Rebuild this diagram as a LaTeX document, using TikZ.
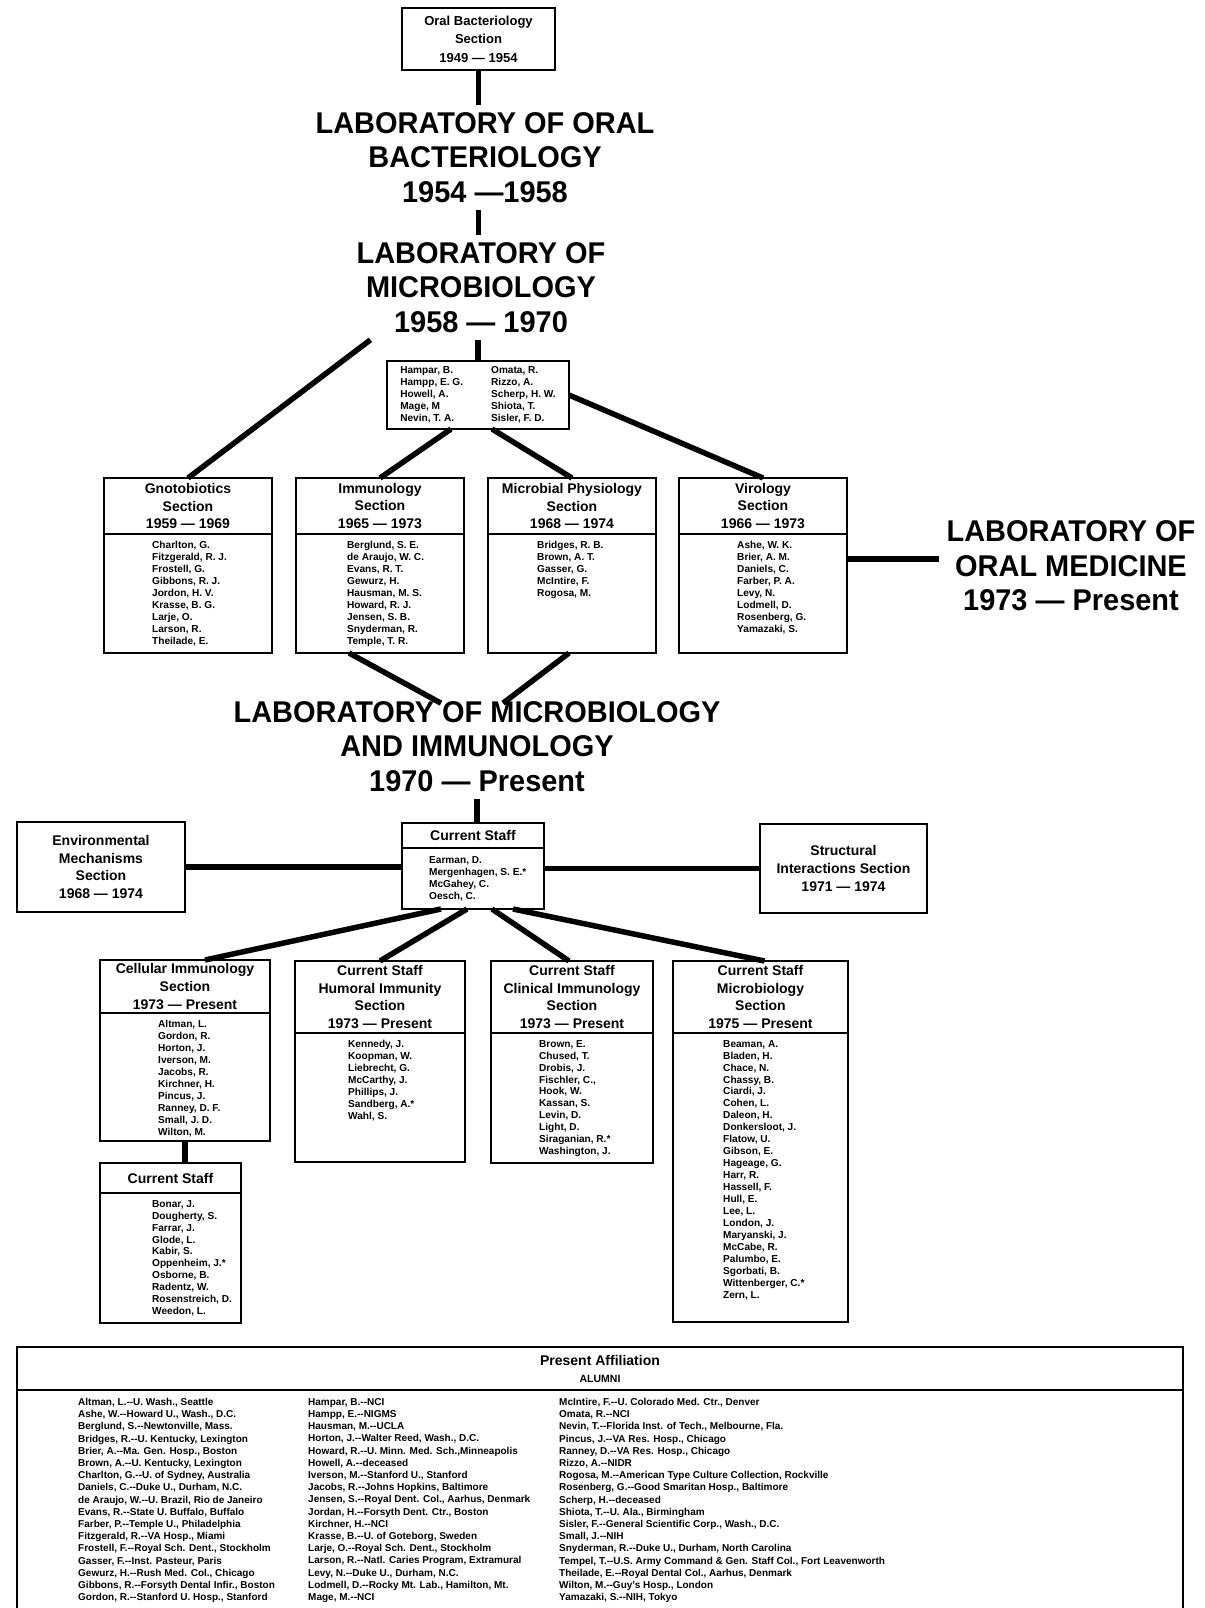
\documentclass[tikz,border=0pt]{standalone}
\usepackage{fontspec}
\setmainfont{Liberation Sans}
\newfontfamily\headfont[FakeStretch=0.965]{Liberation Sans}
\usetikzlibrary{positioning,calc}
\newcommand{\dd}{-{}-}

\begin{document}
\begin{tikzpicture}[x=1pt,y=-1pt,
  big/.style={align=center,inner sep=7pt,font=\headfont\bfseries\fontsize{30}{34.5}\selectfont},
  hdr/.style={draw,line width=2.2pt,outer sep=0pt,inner sep=0pt,align=center,font=\bfseries\fontsize{14}{17.7}\selectfont},
  lst/.style={draw,line width=2.2pt,outer sep=0pt,inner sep=0pt},
  names/.style={align=left,inner sep=0pt,font=\bfseries\fontsize{10.1}{11.95}\selectfont},
  alum/.style={align=left,inner sep=0pt,font=\bfseries\fontsize{10}{12.2}\selectfont},
  conn/.style={line width=5.5pt}]

  \useasboundingbox (0,0) rectangle (1204,1608);

  % Upper tree
  \node[hdr,minimum width=153pt,minimum height=62pt,font=\bfseries\fontsize{13}{18.4}\selectfont] (topbox) at (478.5,39) {Oral Bacteriology\\Section\\1949 — 1954};
  \node[big] (oralbact) at (485,157.5) {LABORATORY OF ORAL\\BACTERIOLOGY\\1954 —1958};
  \node[big] (micro) at (481,287.5) {LABORATORY OF\\MICROBIOLOGY\\1958 — 1970};

  \node[lst,minimum width=182pt,minimum height=68pt] (staffA) at (478,395) {};
  \node[inner sep=0pt,font=\bfseries\fontsize{10.1}{12.2}\selectfont] (staffAN) at (staffA) {%
    \begin{tabular}{@{}l@{\hspace{28pt}}l@{}}
      Hampar, B.   & Omata, R.\\
      Hampp, E. G. & Rizzo, A.\\
      Howell, A.   & Scherp, H. W.\\
      Mage, M      & Shiota, T.\\
      Nevin, T. A. & Sisler, F. D.
    \end{tabular}};

  % Sections 1959 -- 1974
  \node[hdr,minimum width=168pt,minimum height=56pt] (gnoto) at (188,506) {Gnotobiotics\\Section\\1959 — 1969};
  \node[lst,minimum width=168pt,minimum height=119pt,below=0pt of gnoto] (gnotoL) {};
  \node[names,below right=7pt and 48pt of gnotoL.north west] (gnotoN) {Charlton, G.\\Fitzgerald, R. J.\\Frostell, G.\\Gibbons, R. J.\\Jordon, H. V.\\Krasse, B. G.\\Larje, O.\\Larson, R.\\Theilade, E.};

  \node[hdr,minimum width=168pt,minimum height=56pt] (immun) at (380,506) {Immunology\\Section\\1965 — 1973};
  \node[lst,minimum width=168pt,minimum height=119pt,below=0pt of immun] (immunL) {};
  \node[names,below right=7pt and 51pt of immunL.north west] (immunN) {Berglund, S. E.\\de Araujo, W. C.\\Evans, R. T.\\Gewurz, H.\\Hausman, M. S.\\Howard, R. J.\\Jensen, S. B.\\Snyderman, R.\\Temple, T. R.};

  \node[hdr,minimum width=168pt,minimum height=56pt] (micphys) at (572,506) {Microbial Physiology\\Section\\1968 — 1974};
  \node[lst,minimum width=168pt,minimum height=119pt,below=0pt of micphys] (micphysL) {};
  \node[names,below right=7pt and 49pt of micphysL.north west] (micphysN) {Bridges, R. B.\\Brown, A. T.\\Gasser, G.\\McIntire, F.\\Rogosa, M.};

  \node[hdr,minimum width=168pt,minimum height=56pt] (viro) at (763,506) {Virology\\Section\\1966 — 1973};
  \node[lst,minimum width=168pt,minimum height=119pt,below=0pt of viro] (viroL) {};
  \node[names,below right=7pt and 58pt of viroL.north west] (viroN) {Ashe, W. K.\\Brier, A. M.\\Daniels, C.\\Farber, P. A.\\Levy, N.\\Lodmell, D.\\Rosenberg, G.\\Yamazaki, S.};

  \node[big] (oralmed) at (1071,566) {LABORATORY OF\\ORAL MEDICINE\\1973 — Present};
  \node[big] (microimm) at (477,746.5) {LABORATORY OF MICROBIOLOGY\\AND IMMUNOLOGY\\1970 — Present};

  % Lower tree
  \node[hdr,minimum width=142pt,minimum height=25pt] (curstaff) at (473,835.5) {Current Staff};
  \node[lst,minimum width=142pt,minimum height=61pt,below=0pt of curstaff] (curstaffL) {};
  \node[names,below right=8.5pt and 27pt of curstaffL.north west] (curstaffN) {Earman, D.\\Mergenhagen, S. E.*\\McGahey, C.\\Oesch, C.};

  \node[hdr,minimum width=168pt,minimum height=90pt] (envm) at (101,867) {Environmental\\Mechanisms\\Section\\1968 — 1974};
  \node[hdr,minimum width=167pt,minimum height=89pt] (struct) at (843.5,868.5) {Structural\\Interactions Section\\1971 — 1974};

  \node[hdr,minimum width=170pt,minimum height=53pt] (cell) at (185,986.5) {Cellular Immunology\\Section\\1973 — Present};
  \node[lst,minimum width=170pt,minimum height=128pt,below=0pt of cell] (cellL) {};
  \node[names,below right=7pt and 58pt of cellL.north west] (cellN) {Altman, L.\\Gordon, R.\\Horton, J.\\Iverson, M.\\Jacobs, R.\\Kirchner, H.\\Pincus, J.\\Ranney, D. F.\\Small, J. D.\\Wilton, M.};

  \node[hdr,minimum width=141pt,minimum height=30pt] (cs2) at (170.5,1178) {Current Staff};
  \node[lst,minimum width=141pt,minimum height=130pt,below=0pt of cs2] (cs2L) {};
  \node[names,below right=7pt and 52pt of cs2L.north west] (cs2N) {Bonar, J.\\Dougherty, S.\\Farrar, J.\\Glode, L.\\Kabir, S.\\Oppenheim, J.*\\Osborne, B.\\Radentz, W.\\Rosenstreich, D.\\Weedon, L.};

  \node[hdr,minimum width=170pt,minimum height=72pt] (humor) at (380,997) {Current Staff\\Humoral Immunity\\Section\\1973 — Present};
  \node[lst,minimum width=170pt,minimum height=129pt,below=0pt of humor] (humorL) {};
  \node[names,below right=7pt and 53pt of humorL.north west] (humorN) {Kennedy, J.\\Koopman, W.\\Liebrecht, G.\\McCarthy, J.\\Phillips, J.\\Sandberg, A.*\\Wahl, S.};

  \node[hdr,minimum width=162pt,minimum height=72pt] (clin) at (572,997) {Current Staff\\Clinical Immunology\\Section\\1973 — Present};
  \node[lst,minimum width=162pt,minimum height=130pt,below=0pt of clin] (clinL) {};
  \node[names,below right=7pt and 48pt of clinL.north west] (clinN) {Brown, E.\\Chused, T.\\Drobis, J.\\Fischler, C.,\\Hook, W.\\Kassan, S.\\Levin, D.\\Light, D.\\Siraganian, R.*\\Washington, J.};

  \node[hdr,minimum width=175pt,minimum height=72pt] (micb) at (760.5,997) {Current Staff\\Microbiology\\Section\\1975 — Present};
  \node[lst,minimum width=175pt,minimum height=289pt,below=0pt of micb] (micbL) {};
  \node[names,below right=7pt and 50pt of micbL.north west] (micbN) {Beaman, A.\\Bladen, H.\\Chace, N.\\Chassy, B.\\Ciardi, J.\\Cohen, L.\\Daleon, H.\\Donkersloot, J.\\Flatow, U.\\Gibson, E.\\Hageage, G.\\Harr, R.\\Hassell, F.\\Hull, E.\\Lee, L.\\London, J.\\Maryanski, J.\\McCabe, R.\\Palumbo, E.\\Sgorbati, B.\\Wittenberger, C.*\\Zern, L.};

  % Alumni
  \node[hdr,minimum width=1166pt,minimum height=43pt,font=\bfseries\fontsize{14}{17}\selectfont] (alumni) at (600,1368.5) {Present Affiliation\\{\fontsize{10.5}{12}\selectfont ALUMNI}};
  \draw[line width=2.2pt] (alumni.south west) -- ($(alumni.south west)+(0,230)$);
  \draw[line width=2.2pt] (alumni.south east) -- ($(alumni.south east)+(0,230)$);

  \node[alum,below right=8pt and 61pt of alumni.south west] (alumA) {%
    Altman, L.\dd U. Wash., Seattle\\
    Ashe, W.\dd Howard U., Wash., D.C.\\
    Berglund, S.\dd Newtonville, Mass.\\
    Bridges, R.\dd U. Kentucky, Lexington\\
    Brier, A.\dd Ma. Gen. Hosp., Boston\\
    Brown, A.\dd U. Kentucky, Lexington\\
    Charlton, G.\dd U. of Sydney, Australia\\
    Daniels, C.\dd Duke U., Durham, N.C.\\
    de Araujo, W.\dd U. Brazil, Rio de Janeiro\\
    Evans, R.\dd State U. Buffalo, Buffalo\\
    Farber, P.\dd Temple U., Philadelphia\\
    Fitzgerald, R.\dd VA Hosp., Miami\\
    Frostell, F.\dd Royal Sch. Dent., Stockholm\\
    Gasser, F.\dd Inst. Pasteur, Paris\\
    Gewurz, H.\dd Rush Med. Col., Chicago\\
    Gibbons, R.\dd Forsyth Dental Infir., Boston\\
    Gordon, R.\dd Stanford U. Hosp., Stanford};
  \node[alum,below right=8pt and 291pt of alumni.south west] (alumB) {%
    Hampar, B.\dd NCI\\
    Hampp, E.\dd NIGMS\\
    Hausman, M.\dd UCLA\\
    Horton, J.\dd Walter Reed, Wash., D.C.\\
    Howard, R.\dd U. Minn. Med. Sch.,Minneapolis\\
    Howell, A.\dd deceased\\
    Iverson, M.\dd Stanford U., Stanford\\
    Jacobs, R.\dd Johns Hopkins, Baltimore\\
    Jensen, S.\dd Royal Dent. Col., Aarhus, Denmark\\
    Jordan, H.\dd Forsyth Dent. Ctr., Boston\\
    Kirchner, H.\dd NCI\\
    Krasse, B.\dd U. of Goteborg, Sweden\\
    Larje, O.\dd Royal Sch. Dent., Stockholm\\
    Larson, R.\dd Natl. Caries Program, Extramural\\
    Levy, N.\dd Duke U., Durham, N.C.\\
    Lodmell, D.\dd Rocky Mt. Lab., Hamilton, Mt.\\
    Mage, M.\dd NCI};
  \node[alum,below right=8pt and 542pt of alumni.south west] (alumC) {%
    McIntire, F.\dd U. Colorado Med. Ctr., Denver\\
    Omata, R.\dd NCI\\
    Nevin, T.\dd Florida Inst. of Tech., Melbourne, Fla.\\
    Pincus, J.\dd VA Res. Hosp., Chicago\\
    Ranney, D.\dd VA Res. Hosp., Chicago\\
    Rizzo, A.\dd NIDR\\
    Rogosa, M.\dd American Type Culture Collection, Rockville\\
    Rosenberg, G.\dd Good Smaritan Hosp., Baltimore\\
    Scherp, H.\dd deceased\\
    Shiota, T.\dd U. Ala., Birmingham\\
    Sisler, F.\dd General Scientific Corp., Wash., D.C.\\
    Small, J.\dd NIH\\
    Snyderman, R.\dd Duke U., Durham, North Carolina\\
    Tempel, T.\dd U.S. Army Command \& Gen. Staff Col., Fort Leavenworth\\
    Theilade, E.\dd Royal Dental Col., Aarhus, Denmark\\
    Wilton, M.\dd Guy's Hosp., London\\
    Yamazaki, S.\dd NIH, Tokyo};

  % Connectors
  \draw[conn] (topbox.south) -- (topbox.south |- oralbact.north);
  \draw[conn] (oralbact.south -| topbox.south) -- (micro.north -| topbox.south);
  \draw[conn] (micro.south -| staffA.north) -- (staffA.north);
  \draw[conn] ($(micro.south west)+(21,0)$) -- (gnoto.north);
  \draw[conn] ($(staffA.south)+(-27,0)$) -- (immun.north);
  \draw[conn] ($(staffA.south)+(14,0)$) -- (micphys.north);
  \draw[conn] (staffA.east) -- (viro.north);
  \draw[conn] ([yshift=7pt]oralmed.west -| viroL.east) -- ([yshift=7pt]oralmed.west);
  \draw[conn] ($(immunL.south)+(-31,0)$) -- ($(microimm.north)+(-36,9)$);
  \draw[conn] ($(micphysL.south)+(-3,0)$) -- ($(microimm.north)+(26,9)$);
  \draw[conn] (microimm.south) -- (microimm.south |- curstaff.north);
  \draw[conn] (envm.east) -- (envm.east -| curstaffL.west);
  \draw[conn] (curstaffL.east |- struct.west) -- (struct.west);
  \draw[conn] ($(curstaffL.south)+(-32,0)$) -- ($(cell.north)+(20,0)$);
  \draw[conn] ($(curstaffL.south)+(-6,0)$) -- (humor.north);
  \draw[conn] ($(curstaffL.south)+(19,0)$) -- ($(clin.north)+(-3,0)$);
  \draw[conn] ($(curstaffL.south)+(40,0)$) -- ($(micb.north)+(4,0)$);
  \draw[conn] (cellL.south) -- (cellL.south |- cs2.north);

\end{tikzpicture}
\end{document}
